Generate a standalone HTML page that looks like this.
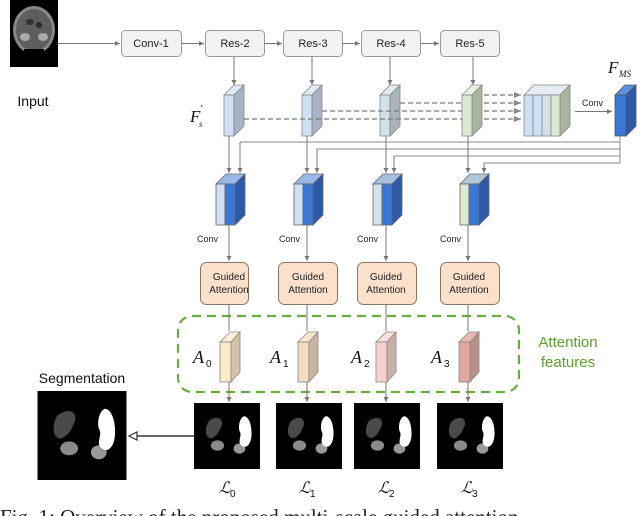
<!DOCTYPE html>
<html><head><meta charset="utf-8"><style>
html,body{margin:0;padding:0;background:#fff;overflow:hidden}
svg{display:block}
text{font-family:"Liberation Sans",sans-serif}
text.m{font-family:"Liberation Serif",serif;font-style:italic}
text.cap{font-family:"Liberation Serif",serif}
</style></head><body>
<svg width="640" height="516" viewBox="0 0 640 516" xmlns="http://www.w3.org/2000/svg">
<defs>
<marker id="ah" markerWidth="6" markerHeight="6" refX="5" refY="3" orient="auto" markerUnits="userSpaceOnUse"><path d="M0,0.5 L5,3 L0,5.5z" fill="#777"/></marker>
<marker id="ad" markerWidth="8" markerHeight="8" refX="7" refY="4" orient="auto" markerUnits="userSpaceOnUse"><path d="M0,1 L7,4 L0,7z" fill="#888"/></marker>
<symbol id="seg" viewBox="0 0 90 90">
<rect width="90" height="90" fill="#000"/>
<path d="M20,25 C28,18 40,18 38,30 C35,38 32,45 24,48 C15,48 14,35 20,25z" fill="#4a4a4a"/>
<ellipse cx="32" cy="58" rx="9" ry="7" fill="#8a8a8a"/>
<ellipse cx="62" cy="62" rx="8" ry="7" fill="#999"/>
<path d="M68,18 C76,18 80,35 78,48 C76,58 70,64 63,56 C60,50 66,44 62,38 C60,30 63,20 68,18z" fill="#fff"/>
</symbol>
</defs>

<rect x="10" y="0" width="48" height="67" fill="#000"/>
<ellipse cx="34" cy="30" rx="21" ry="24" fill="#888"/>
<ellipse cx="34" cy="30" rx="18" ry="21" fill="#5e5e5e"/>
<ellipse cx="25" cy="37" rx="5" ry="4" fill="#aaa"/>
<ellipse cx="43" cy="37" rx="5" ry="4" fill="#aaa"/>
<ellipse cx="30" cy="22" rx="4" ry="3" fill="#333"/>
<ellipse cx="39" cy="25" rx="3" ry="3" fill="#2a2a2a"/>
<rect x="24" y="49" width="20" height="5" fill="#000"/>
<text x="33" y="106" font-size="14" text-anchor="middle" fill="#111">Input</text>

<g fill="#f2f2f2" stroke="#999" stroke-width="1">
<rect x="121.5" y="30.5" width="60" height="26" rx="4"/>
<rect x="205.5" y="30.5" width="59" height="26" rx="4"/>
<rect x="283.5" y="30.5" width="59" height="26" rx="4"/>
<rect x="361.5" y="30.5" width="59" height="26" rx="4"/>
<rect x="440.5" y="30.5" width="59" height="26" rx="4"/>
</g>
<g font-size="11" text-anchor="middle" fill="#222">
<text x="151" y="47">Conv-1</text><text x="235" y="47">Res-2</text><text x="313" y="47">Res-3</text><text x="391" y="47">Res-4</text><text x="470" y="47">Res-5</text>
</g>
<g stroke="#777" stroke-width="1" marker-end="url(#ah)">
<line x1="58" y1="43.5" x2="120" y2="43.5"/>
<line x1="182" y1="43.5" x2="204" y2="43.5"/>
<line x1="265" y1="43.5" x2="282" y2="43.5"/>
<line x1="343" y1="43.5" x2="360" y2="43.5"/>
<line x1="421" y1="43.5" x2="439" y2="43.5"/>
<line x1="234" y1="57" x2="234" y2="85"/>
<line x1="312" y1="57" x2="312" y2="85"/>
<line x1="390" y1="57" x2="390" y2="85"/>
<line x1="473" y1="57" x2="473" y2="85"/>
</g>

<g stroke="#888" stroke-width="0.8">
<path d="M224,95 L234,85 L244,85 L234,95z" fill="#dfe9f7"/><rect x="224" y="95" width="10" height="41" fill="#cfe0f5"/><path d="M234,95 L244,85 L244,126 L234,136z" fill="#a8b4c6"/>
<path d="M302,95 L312,85 L322,85 L312,95z" fill="#dfe9f7"/><rect x="302" y="95" width="10" height="41" fill="#cfe0f5"/><path d="M312,95 L322,85 L322,126 L312,136z" fill="#a8b4c6"/>
<path d="M380,95 L390,85 L400,85 L390,95z" fill="#e2ecef"/><rect x="380" y="95" width="10" height="41" fill="#d3e2e8"/><path d="M390,95 L400,85 L400,126 L390,136z" fill="#a9b5b8"/>
<path d="M462,95 L472,85 L482,85 L472,95z" fill="#e8f0e0"/><rect x="462" y="95" width="10" height="41" fill="#dbe8d2"/><path d="M472,95 L482,85 L482,126 L472,136z" fill="#a9b5a0"/>
</g>
<text x="190" y="122" class="m" font-size="17" fill="#111">F</text><text x="200" y="112" class="m" font-size="11" fill="#111">′</text><text x="199" y="127" class="m" font-size="9" fill="#111">s</text>

<g stroke="#777" stroke-width="1.2" stroke-dasharray="5,3" fill="none">
<line x1="244" y1="119" x2="462" y2="119"/>
<line x1="322" y1="111" x2="462" y2="111"/>
<line x1="400" y1="103" x2="462" y2="103"/>
</g>
<g stroke="#777" stroke-width="1.2" stroke-dasharray="5,3" marker-end="url(#ad)">
<line x1="484" y1="95" x2="521" y2="95"/>
<line x1="484" y1="103" x2="521" y2="103"/>
<line x1="484" y1="111" x2="521" y2="111"/>
<line x1="484" y1="119" x2="521" y2="119"/>
</g>

<g stroke="#888" stroke-width="0.8">
<path d="M524,95 L534,85 L570,85 L560,95z" fill="#e4ecf2"/>
<rect x="524" y="95" width="9" height="41" fill="#cfe0f5"/>
<rect x="533" y="95" width="9" height="41" fill="#cfe0f5"/>
<rect x="542" y="95" width="9" height="41" fill="#d3e2e8"/>
<rect x="551" y="95" width="9" height="41" fill="#dbe8d2"/>
<path d="M560,95 L570,85 L570,126 L560,136z" fill="#a9b5a0"/>
</g>
<text x="582" y="106" font-size="9" fill="#222">Conv</text>
<line x1="575" y1="111.5" x2="612" y2="111.5" stroke="#777" marker-end="url(#ah)"/>
<g stroke="#555" stroke-width="0.8">
<path d="M615,95 L625,85 L636,85 L626,95z" fill="#5a90e0"/><rect x="615" y="95" width="11" height="41" fill="#3a78d8"/><path d="M626,95 L636,85 L636,126 L626,136z" fill="#2c5aa8"/>
</g>
<text x="608" y="73" class="m" font-size="17" fill="#111">F</text><text x="619" y="77" class="m" font-size="9" fill="#111">MS</text>

<g stroke="#888" stroke-width="1" fill="none">
<polyline points="620,136 620,163"/>
<polyline points="620,142 240,142"/>
<polyline points="620,149 317,149"/>
<polyline points="620,156 394,156"/>
<polyline points="620,163 484,163"/>
</g>
<g stroke="#777" stroke-width="1" marker-end="url(#ah)">
<line x1="240" y1="142" x2="240" y2="173"/>
<line x1="317" y1="149" x2="317" y2="173"/>
<line x1="394" y1="156" x2="394" y2="173"/>
<line x1="484" y1="163" x2="484" y2="173"/>
<line x1="229" y1="136" x2="229" y2="173"/>
<line x1="307" y1="136" x2="307" y2="173"/>
<line x1="386" y1="136" x2="386" y2="173"/>
<line x1="468" y1="136" x2="468" y2="173"/>
</g>

<g stroke="#666" stroke-width="0.8">
<g transform="translate(216,0)"><path d="M0,184 L10,174 L29,174 L19,184z" fill="#9ab8e8"/><rect x="0" y="184" width="9" height="41" fill="#cfe0f5"/><rect x="9" y="184" width="10" height="41" fill="#3a78d8"/><path d="M19,184 L29,174 L29,215 L19,225z" fill="#2c5aa8"/></g>
<g transform="translate(294,0)"><path d="M0,184 L10,174 L29,174 L19,184z" fill="#9ab8e8"/><rect x="0" y="184" width="9" height="41" fill="#cfe0f5"/><rect x="9" y="184" width="10" height="41" fill="#3a78d8"/><path d="M19,184 L29,174 L29,215 L19,225z" fill="#2c5aa8"/></g>
<g transform="translate(373,0)"><path d="M0,184 L10,174 L29,174 L19,184z" fill="#a8c0e0"/><rect x="0" y="184" width="9" height="41" fill="#d3e2e8"/><rect x="9" y="184" width="10" height="41" fill="#3a78d8"/><path d="M19,184 L29,174 L29,215 L19,225z" fill="#2c5aa8"/></g>
<g transform="translate(460,0)"><path d="M0,184 L10,174 L29,174 L19,184z" fill="#b0c8d8"/><rect x="0" y="184" width="9" height="41" fill="#dbe8d2"/><rect x="9" y="184" width="10" height="41" fill="#3a78d8"/><path d="M19,184 L29,174 L29,215 L19,225z" fill="#2c5aa8"/></g>
</g>
<g font-size="9" fill="#222">
<text x="197" y="242">Conv</text><text x="279" y="242">Conv</text><text x="357" y="242">Conv</text><text x="440" y="242">Conv</text>
</g>
<g stroke="#777" stroke-width="1" marker-end="url(#ah)">
<line x1="229" y1="225" x2="229" y2="261"/>
<line x1="307" y1="225" x2="307" y2="261"/>
<line x1="386" y1="225" x2="386" y2="261"/>
<line x1="468" y1="225" x2="468" y2="261"/>
</g>

<g fill="#fbe0cc" stroke="#8a7565" stroke-width="1">
<rect x="200.5" y="262.5" width="48" height="42" rx="6"/>
<rect x="278.5" y="262.5" width="59" height="42" rx="6"/>
<rect x="357.5" y="262.5" width="59" height="42" rx="6"/>
<rect x="440.5" y="262.5" width="59" height="42" rx="6"/>
</g>
<g font-size="10" text-anchor="middle" fill="#222">
<text x="229" y="280">Guided</text><text x="229" y="293">Attention</text>
<text x="308" y="280">Guided</text><text x="308" y="293">Attention</text>
<text x="386" y="280">Guided</text><text x="386" y="293">Attention</text>
<text x="469" y="280">Guided</text><text x="469" y="293">Attention</text>
</g>

<rect x="178" y="316" width="341" height="76" rx="14" fill="none" stroke="#6aaa40" stroke-width="2.2" stroke-dasharray="9,6"/>
<text x="568" y="347" font-size="15" fill="#5aa02c" text-anchor="middle">Attention</text>
<text x="568" y="367" font-size="15" fill="#5aa02c" text-anchor="middle">features</text>

<g stroke="#777" stroke-width="1">
<line x1="229" y1="305" x2="229" y2="331"/><line x1="307" y1="305" x2="307" y2="331"/><line x1="386" y1="305" x2="386" y2="331"/><line x1="468" y1="305" x2="468" y2="331"/>
</g>
<g stroke="#888" stroke-width="0.8">
<path d="M220,342 L230,332 L240,332 L231,342z" fill="#fff2d8"/><rect x="220" y="342" width="11" height="40" fill="#fdebc8"/><path d="M231,342 L240,332 L240,372 L231,382z" fill="#d4c2a6"/>
<path d="M298,342 L308,332 L318,332 L309,342z" fill="#f8e6d0"/><rect x="298" y="342" width="11" height="40" fill="#f3dcc0"/><path d="M309,342 L318,332 L318,372 L309,382z" fill="#c8b4a0"/>
<path d="M376,342 L386,332 L396,332 L387,342z" fill="#fbdede"/><rect x="376" y="342" width="11" height="40" fill="#f8d0d0"/><path d="M387,342 L396,332 L396,372 L387,382z" fill="#c8b0a8"/>
<path d="M459,342 L469,332 L479,332 L470,342z" fill="#eab8b0"/><rect x="459" y="342" width="11" height="40" fill="#e2a8a0"/><path d="M470,342 L479,332 L479,372 L470,382z" fill="#b89088"/>
</g>
<g fill="#111">
<text class="m" x="193" y="363" font-size="18">A</text><text x="206" y="367" font-size="10">0</text>
<text class="m" x="270" y="363" font-size="18">A</text><text x="283" y="367" font-size="10">1</text>
<text class="m" x="351" y="363" font-size="18">A</text><text x="364" y="367" font-size="10">2</text>
<text class="m" x="431" y="363" font-size="18">A</text><text x="444" y="367" font-size="10">3</text>
</g>
<g stroke="#777" stroke-width="1" marker-end="url(#ah)">
<line x1="229" y1="382" x2="229" y2="402"/><line x1="307" y1="382" x2="307" y2="402"/><line x1="386" y1="382" x2="386" y2="402"/><line x1="468" y1="382" x2="468" y2="402"/>
</g>

<use href="#seg" x="194" y="403" width="66" height="66"/>
<use href="#seg" x="276" y="403" width="66" height="66"/>
<use href="#seg" x="354" y="403" width="66" height="66"/>
<use href="#seg" x="437" y="403" width="66" height="66"/>
<use href="#seg" x="37" y="391" width="90" height="89"/>
<text x="82" y="383" font-size="14" text-anchor="middle" fill="#111">Segmentation</text>
<line x1="194" y1="436" x2="137" y2="436" stroke="#333" stroke-width="1.6"/>
<path d="M129,436 L137,432 L137,440z" fill="#fff" stroke="#333" stroke-width="1.2"/>

<g fill="#111">
<text class="m" x="219" y="493" font-size="16">ℒ</text><text x="230" y="497" font-size="10">0</text>
<text class="m" x="299" y="493" font-size="16">ℒ</text><text x="310" y="497" font-size="10">1</text>
<text class="m" x="378" y="493" font-size="16">ℒ</text><text x="389" y="497" font-size="10">2</text>
<text class="m" x="461" y="493" font-size="16">ℒ</text><text x="472" y="497" font-size="10">3</text>
</g>

<text class="cap" x="0" y="524" font-size="21" fill="#222">Fig. 1: Overview of the proposed multi-scale guided attention</text>
</svg>
</body></html>
